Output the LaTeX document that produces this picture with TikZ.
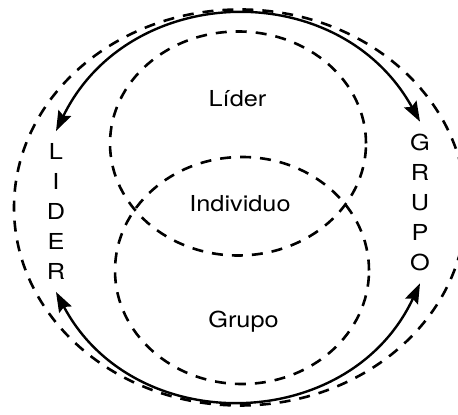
\documentclass[tikz,border=0pt]{standalone}
\usepackage{fontspec}
\setmainfont[FakeStretch=1.15]{TeX Gyre Heros}
\usepackage{tikz}
\usetikzlibrary{positioning,arrows.meta}
\tikzset{dring/.style={draw, dash pattern=on 5.5pt off 4.5pt, line width=1.3pt}}
\tikzset{dlabel/.style={font=\fontsize{11}{15}\selectfont, inner sep=0pt}}
\tikzset{dcolumn/.style={dlabel, align=center, inner sep=6pt}}
\tikzset{dflow/.style={<->, >={Stealth[length=10pt,width=7pt,inset=1.5pt]}, line width=1.2pt, looseness=1.17}}

\begin{document}
\begin{tikzpicture}[x=0.5pt,y=0.5pt]
  \useasboundingbox (0,0) rectangle (458,415);
  \coordinate (outerc) at (240,207.5);
  \coordinate (liderc) at (238,271.5);
  \coordinate (grupoc) at (242,144.5);

  \draw[dring] (outerc) ellipse [x radius=226, y radius=198];
  \draw[dring] (liderc) ellipse [x radius=128, y radius=112];
  \draw[dring] (grupoc) ellipse [x radius=127, y radius=113.5];

  \node[dlabel] (lidertext) at (237.5,316) {Líder};
  \node[dlabel] (individuo) at (240,211) {Individuo};
  \node[dlabel] (grupotext) at (243.5,93) {Grupo};

  \node[dcolumn] (lider) at (56,203.5) {L\\I\\D\\E\\R};
  \node[dcolumn] (grupo) at (420,212.5) {G\\R\\U\\P\\O};

  \draw[dflow] (lider.north) to[out=64,in=119] (grupo.north);
  \draw[dflow] (lider.south) to[out=-62,in=-115] (grupo.south);
\end{tikzpicture}
\end{document}
